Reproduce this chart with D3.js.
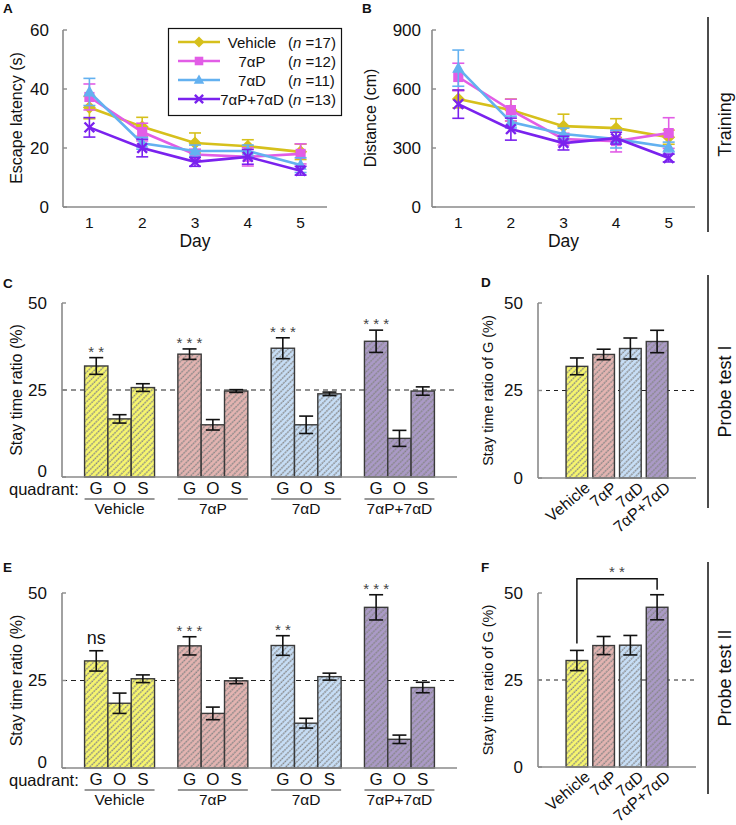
<!DOCTYPE html>
<html><head><meta charset="utf-8">
<script src="https://cdn.jsdelivr.net/npm/d3@7"></script>
<style>body{margin:0;background:#fff} text{font-family:Arial,"Liberation Sans",sans-serif;fill:#111}</style>
</head><body><svg id="c" width="736" height="825"></svg>
<script>
// ---------- data ----------
const days = [1, 2, 3, 4, 5];
const groups = ["Vehicle", "7αP", "7αD", "7αP+7αD"];
const groupN = [17, 12, 11, 13];
const quadrants = ["G", "O", "S"];
const latencyTicks = [0, 20, 40, 60];
const distanceTicks = [0, 300, 600, 900];
const ratioTicks = [0, 25, 50];

const latencyMean = [
  [33.7, 27.2, 21.7, 20.6, 18.7],
  [37.3, 25.4, 17.8, 17.0, 18.0],
  [39.0, 21.6, 19.0, 19.0, 14.2],
  [27.0, 20.0, 15.3, 17.0, 12.3]];
const latencyErr = [
  [3.8, 3.2, 3.4, 2.2, 2.6],
  [4.4, 3.0, 1.8, 3.1, 3.4],
  [4.6, 2.0, 2.0, 2.0, 2.5],
  [3.3, 3.0, 1.5, 2.5, 1.5]];
const distanceMean = [
  [549, 493, 411, 401, 355],
  [661, 493, 345, 335, 376],
  [706, 432, 371, 345, 305],
  [523, 396, 325, 350, 249]];
const distanceErr = [
  [45, 56, 61, 48, 36],
  [70, 55, 30, 55, 78],
  [92, 30, 30, 45, 25],
  [72, 56, 35, 30, 20]];

const probe1Mean = [[31.9, 16.7, 25.7], [35.3, 15.0, 24.7], [37.0, 15.0, 23.9], [39.0, 11.1, 24.7]];
const probe1Err  = [[2.4, 1.2, 1.1], [1.5, 1.5, 0.4], [3.0, 2.5, 0.5], [3.2, 2.3, 1.2]];
const probe1Sig  = ["**", "***", "***", "***"];
const probe2Mean = [[30.6, 18.5, 25.5], [34.9, 15.6, 24.9], [35.0, 12.8, 26.1], [45.9, 8.2, 23.0]];
const probe2Err  = [[2.9, 2.9, 1.1], [2.6, 1.8, 0.8], [2.8, 1.4, 1.0], [3.6, 1.2, 1.5]];
const probe2Sig  = ["ns", "***", "**", "***"];
const chanceLevel = 25;
const probe2Compare = ["Vehicle", "7αP+7αD", "**"];

// ---------- style ----------
const lineColors = ["#d6c01c", "#e25de6", "#63b1f0", "#7a22ee"];
const barColors = ["#f7f66e", "#e3b4b1", "#c7def6", "#aa9ac6"];
const markers = ["diamond", "square", "triangle", "cross"];
const FONT = 'Arial,"Liberation Sans",sans-serif';

const svg = d3.select("#c");
const defs = svg.append("defs");
barColors.forEach((c, i) => {
  const p = defs.append("pattern").attr("id", "hatch" + i)
    .attr("patternUnits", "userSpaceOnUse").attr("width", 4.2).attr("height", 8)
    .attr("patternTransform", "rotate(45)");
  p.append("rect").attr("width", 4.2).attr("height", 8).attr("fill", c);
  p.append("line").attr("x1", 1).attr("x2", 1).attr("y1", 0).attr("y2", 8)
    .attr("stroke", "#858585").attr("stroke-width", 1.5).attr("stroke-dasharray", "1.6 1");
});

function txt(g, x, y, s, size, opts = {}) {
  const t = g.append("text").attr("x", x).attr("y", y).text(s)
    .attr("font-size", size).attr("font-family", FONT);
  if (opts.anchor) t.attr("text-anchor", opts.anchor);
  if (opts.weight) t.attr("font-weight", opts.weight);
  if (opts.rotate !== undefined) t.attr("transform", `rotate(${opts.rotate},${x},${y})`);
  if (opts.fill) t.style("fill", opts.fill);
  if (opts.baseline) t.attr("dominant-baseline", opts.baseline);
  return t;
}

function yAxis(g, y, x0, ticks, fontSize, labelX, zeroLift = 0) {
  g.append("line").attr("x1", x0).attr("x2", x0).attr("y1", y.range()[1]).attr("y2", y.range()[0])
    .attr("stroke", "#8a8a8a").attr("stroke-width", 1.6);
  ticks.forEach(t => {
    g.append("line").attr("x1", x0).attr("x2", x0 + 4).attr("y1", y(t)).attr("y2", y(t))
      .attr("stroke", "#8a8a8a").attr("stroke-width", 1.4);
    txt(g, labelX, y(t) - (t === 0 ? zeroLift : 0), t, fontSize, { anchor: "end", baseline: "central" });
  });
}

function markerPath(type, size) {
  const s = size;
  if (type === "diamond") return `M0,${-s}L${s},0L0,${s}L${-s},0Z`;
  if (type === "square") return `M${-s * .78},${-s * .78}h${s * 1.56}v${s * 1.56}h${-s * 1.56}Z`;
  if (type === "triangle") return `M0,${-s}L${s * .95},${s * .7}L${-s * .95},${s * .7}Z`;
  return `M${-s * .75},${-s * .75}L${s * .75},${s * .75}M${-s * .75},${s * .75}L${s * .75},${-s * .75}`;
}

// ---------- line panels ----------
function linePanel(cfg) {
  const g = svg.append("g");
  const x = d3.scalePoint().domain(days).range([cfg.x0, cfg.x1]).padding(0.5);
  const y = d3.scaleLinear().domain([0, cfg.ticks[cfg.ticks.length - 1]]).range([207, 30]);
  yAxis(g, y, cfg.x0, cfg.ticks, 17, cfg.tickX);
  g.append("line").attr("x1", cfg.x0).attr("x2", cfg.x1).attr("y1", y(0)).attr("y2", y(0))
    .attr("stroke", "#8a8a8a").attr("stroke-width", 1.6);
  days.forEach(d => txt(g, x(d), 228, d, 15.5, { anchor: "middle" }));
  txt(g, (cfg.x0 + cfg.x1) / 2, 247, "Day", 17.5, { anchor: "middle" });
  txt(g, cfg.ylabX, 118, cfg.ylab, 16, { anchor: "middle", rotate: -90, baseline: "central" });
  txt(g, cfg.letterX, 13, cfg.letter, 13.5, { weight: "bold" });
  groups.forEach((gr, i) => {
    const col = lineColors[i];
    const mean = cfg.mean[i], err = cfg.err[i];
    const eg = g.append("g").attr("stroke", col).attr("stroke-width", 1.6);
    days.forEach((d, k) => {
      const cx = x(d), top = y(mean[k] + err[k]), bot = y(mean[k] - err[k]);
      eg.append("line").attr("x1", cx).attr("x2", cx).attr("y1", top).attr("y2", bot);
      eg.append("line").attr("x1", cx - 6).attr("x2", cx + 6).attr("y1", top).attr("y2", top);
      eg.append("line").attr("x1", cx - 6).attr("x2", cx + 6).attr("y1", bot).attr("y2", bot);
    });
    g.append("path").datum(mean).attr("fill", "none").attr("stroke", col).attr("stroke-width", 2.6)
      .attr("d", d3.line().x((v, k) => x(days[k])).y(v => y(v)));
    days.forEach((d, k) => {
      const m = g.append("path").attr("transform", `translate(${x(d)},${y(mean[k])})`)
        .attr("d", markerPath(markers[i], 6.5));
      if (markers[i] === "cross") m.attr("fill", "none").attr("stroke", col).attr("stroke-width", 2.4);
      else m.attr("fill", col);
    });
  });
  return g;
}

linePanel({ x0: 63, x1: 327, ticks: latencyTicks, tickX: 49, mean: latencyMean, err: latencyErr,
  ylab: "Escape latency (s)", ylabX: 16, letter: "A", letterX: 3 });
linePanel({ x0: 432, x1: 695, ticks: distanceTicks, tickX: 421, mean: distanceMean, err: distanceErr,
  ylab: "Distance (cm)", ylabX: 370, letter: "B", letterX: 362 });

// legend
{
  const g = svg.append("g");
  g.append("rect").attr("x", 168.5).attr("y", 28.5).attr("width", 173).attr("height", 87)
    .attr("fill", "#fff").attr("stroke", "#111").attr("stroke-width", 1.2);
  const rows = [42, 61, 80, 99];
  groups.forEach((gr, i) => {
    const yy = rows[i], col = lineColors[i];
    g.append("line").attr("x1", 178).attr("x2", 220).attr("y1", yy).attr("y2", yy)
      .attr("stroke", col).attr("stroke-width", 2.6);
    const m = g.append("path").attr("transform", `translate(199,${yy})`).attr("d", markerPath(markers[i], 5.5));
    if (markers[i] === "cross") m.attr("fill", "none").attr("stroke", col).attr("stroke-width", 2.4);
    else m.attr("fill", col);
    txt(g, 252, yy + 5.5, gr, 15, { anchor: "middle" });
    const t = txt(g, 288, yy + 5.5, "(", 15);
    t.append("tspan").attr("font-style", "italic").text("n");
    t.append("tspan").text(" =" + groupN[i] + ")");
  });
}

// ---------- grouped bar panels (C, E) ----------
function groupedPanel(cfg) {
  const g = svg.append("g");
  const y = d3.scaleLinear().domain([0, 50]).range([cfg.y0, cfg.y50]);
  const xg = d3.scaleBand().domain(groups).range([62, 457]).paddingInner(0.25).paddingOuter(0.242);
  const xq = d3.scaleBand().domain(quadrants).range([0, xg.bandwidth()]);
  g.append("line").attr("x1", 62).attr("x2", 457).attr("y1", y(chanceLevel)).attr("y2", y(chanceLevel))
    .attr("stroke", "#222").attr("stroke-width", 1.2).attr("stroke-dasharray", "5 4");
  groups.forEach((gr, i) => {
    quadrants.forEach((q, j) => {
      const bx = xg(gr) + xq(q), v = cfg.mean[i][j];
      g.append("rect").attr("x", bx).attr("y", y(v)).attr("width", xq.bandwidth()).attr("height", y(0) - y(v))
        .attr("fill", `url(#hatch${i})`).attr("stroke", "#3a3a3a").attr("stroke-width", 1.4);
    });
  });
  groups.forEach((gr, i) => {
    quadrants.forEach((q, j) => {
      const cx = xg(gr) + xq(q) + xq.bandwidth() / 2, v = cfg.mean[i][j], e = cfg.err[i][j];
      const top = y(v + e), bot = y(v - e);
      const eg = g.append("g").attr("stroke", "#111").attr("stroke-width", 1.6);
      eg.append("line").attr("x1", cx).attr("x2", cx).attr("y1", top).attr("y2", bot);
      eg.append("line").attr("x1", cx - 7).attr("x2", cx + 7).attr("y1", top).attr("y2", top);
      eg.append("line").attr("x1", cx - 7).attr("x2", cx + 7).attr("y1", bot).attr("y2", bot);
      if (j === 0) {
        const s = cfg.sig[i];
        if (s === "ns") txt(g, cx, top - 7, s, 18, { anchor: "middle" });
        else txt(g, cx, top - 1, s.split("").join(" "), 15, { anchor: "middle", fill: "#444" });
      }
      txt(g, cx, cfg.qy, q, 17, { anchor: "middle" });
    });
    g.append("line").attr("x1", xg(gr)).attr("x2", xg(gr) + xg.bandwidth()).attr("y1", cfg.qy + 5).attr("y2", cfg.qy + 5)
      .attr("stroke", "#333").attr("stroke-width", 1.1);
    txt(g, xg(gr) + xg.bandwidth() / 2, cfg.qy + 20, gr, 15.5, { anchor: "middle" });
  });
  g.append("line").attr("x1", 62).attr("x2", 457).attr("y1", y(0)).attr("y2", y(0))
    .attr("stroke", "#8a8a8a").attr("stroke-width", 1.6);
  yAxis(g, y, 62, ratioTicks, 17, 47, 6);
  txt(g, 9, cfg.qy + 1, "quadrant:", 16.5);
  txt(g, 16, (cfg.y0 + cfg.y50) / 2, "Stay time ratio (%)", 16, { anchor: "middle", rotate: -90, baseline: "central" });
  txt(g, 3, cfg.letterY, cfg.letter, 13.5, { weight: "bold" });
}

// ---------- G-only panels (D, F) ----------
function gPanel(cfg) {
  const g = svg.append("g");
  const y = d3.scaleLinear().domain([0, 50]).range([cfg.y0, cfg.y50]);
  const x = d3.scaleBand().domain(groups).range([538, 696]).paddingInner(0.19).paddingOuter(1.05);
  g.append("line").attr("x1", 538).attr("x2", 696).attr("y1", y(chanceLevel)).attr("y2", y(chanceLevel))
    .attr("stroke", "#222").attr("stroke-width", 1.2).attr("stroke-dasharray", "4 4");
  groups.forEach((gr, i) => {
    const v = cfg.mean[i][0], e = cfg.err[i][0], bx = x(gr), cx = bx + x.bandwidth() / 2;
    g.append("rect").attr("x", bx).attr("y", y(v)).attr("width", x.bandwidth()).attr("height", y(0) - y(v))
      .attr("fill", `url(#hatch${i})`).attr("stroke", "#3a3a3a").attr("stroke-width", 1.4);
    const top = y(v + e), bot = y(v - e);
    const eg = g.append("g").attr("stroke", "#111").attr("stroke-width", 1.6);
    eg.append("line").attr("x1", cx).attr("x2", cx).attr("y1", top).attr("y2", bot);
    eg.append("line").attr("x1", cx - 7).attr("x2", cx + 7).attr("y1", top).attr("y2", top);
    eg.append("line").attr("x1", cx - 7).attr("x2", cx + 7).attr("y1", bot).attr("y2", bot);
    txt(g, cx + 7, y(0) + 3, gr, 16, { anchor: "end", rotate: -40, baseline: "hanging" });
  });
  g.append("line").attr("x1", 538).attr("x2", 696).attr("y1", y(0)).attr("y2", y(0))
    .attr("stroke", "#8a8a8a").attr("stroke-width", 1.6);
  yAxis(g, y, 538, ratioTicks, 17, 523);
  txt(g, 488, (cfg.y0 + cfg.y50) / 2, "Stay time ratio of G (%)", 14.5, { anchor: "middle", rotate: -90, baseline: "central" });
  txt(g, 481, cfg.letterY, cfg.letter, 13.5, { weight: "bold" });
  if (cfg.compare) {
    const [a, b, s] = cfg.compare;
    const ia = groups.indexOf(a), ib = groups.indexOf(b);
    const ca = x(a) + x.bandwidth() / 2, cb = x(b) + x.bandwidth() / 2;
    const ta = y(cfg.mean[ia][0] + cfg.err[ia][0]), tb = y(cfg.mean[ib][0] + cfg.err[ib][0]);
    const by = tb - 16;
    g.append("path").attr("fill", "none").attr("stroke", "#111").attr("stroke-width", 1.5)
      .attr("d", `M${ca},${ta - 7}V${by}H${cb}V${tb - 5}`);
    txt(g, (ca + cb) / 2, by - 2, s.split("").join(" "), 15, { anchor: "middle", fill: "#444" });
  }
}

groupedPanel({ y0: 477, y50: 303, mean: probe1Mean, err: probe1Err, sig: probe1Sig, qy: 494, letter: "C", letterY: 288 });
groupedPanel({ y0: 768, y50: 593, mean: probe2Mean, err: probe2Err, sig: probe2Sig, qy: 785, letter: "E", letterY: 572 });
gPanel({ y0: 478, y50: 303, mean: probe1Mean, err: probe1Err, letter: "D", letterY: 287 });
gPanel({ y0: 767, y50: 593, mean: probe2Mean, err: probe2Err, letter: "F", letterY: 572, compare: probe2Compare });

// ---------- right-side section labels ----------
const sections = [["Training", 17, 232], ["Probe test I", 275, 508], ["Probe test II", 562, 794]];
sections.forEach(([s, a, b]) => {
  svg.append("line").attr("x1", 708).attr("x2", 708).attr("y1", a).attr("y2", b)
    .attr("stroke", "#111").attr("stroke-width", 1.5);
  txt(svg, 725, (a + b) / 2, s, 18, { anchor: "middle", rotate: -90, baseline: "central" });
});
</script></body></html>
